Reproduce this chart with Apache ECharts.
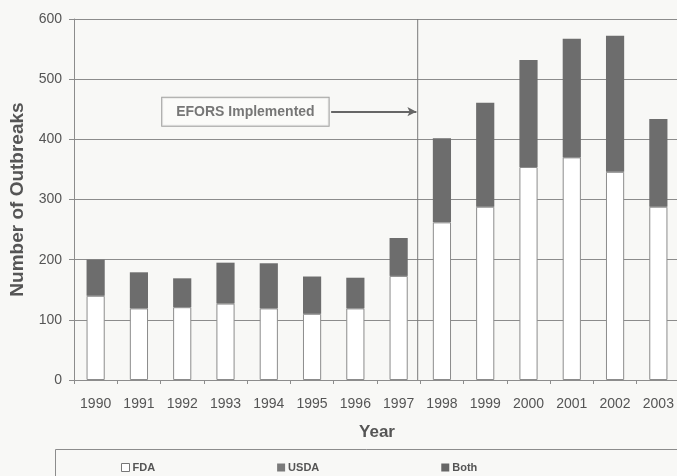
<!DOCTYPE html>
<html>
<head>
<meta charset="utf-8">
<script src="https://cdn.jsdelivr.net/npm/echarts@6/dist/echarts.min.js"></script>
<style>
  html, body { margin: 0; padding: 0; background: #f8f8f6; }
  #chart { width: 677px; height: 476px; }
</style>
</head>
<body>
<div id="chart"></div>
<script>
// Foodborne outbreaks by regulating agency, 1990-2003
const years = ['1990','1991','1992','1993','1994','1995','1996','1997','1998','1999','2000','2001','2002','2003'];
const fda  = [140, 119, 121, 127, 119, 110, 119, 173, 262, 288, 354, 370, 346, 288];
const usda = [ 60,  60,  48,  68,  75,  62,  51,  63, 140, 173, 178, 197, 226, 146];
const both = [  0,   0,   0,   0,   0,   0,   0,   0,   0,   0,   0,   0,   0,   0];
const yTicks = [0, 100, 200, 300, 400, 500, 600];

// EFORS annotation: boundary between 1997 and 1998, arrow height
const eforsLabel = 'EFORS Implemented';
const eforsBoundary = 7.94;
const eforsLevel = 446;

const font = 'Arial, "Liberation Sans", sans-serif';
const textGray = '#555555';
const lineGray = '#8c8c8c';

const chart = echarts.init(document.getElementById('chart'));
chart.setOption({
  backgroundColor: '#f8f8f6',
  animation: false,
  textStyle: { fontFamily: font },
  grid: { left: 74, right: -3, top: 19, bottom: 96, outerBoundsMode: 'none' },
  legend: {
    left: 116, top: 457,
    icon: 'rect',
    itemWidth: 8, itemHeight: 8, itemGap: 122,
    textStyle: { fontFamily: font, fontSize: 11, fontWeight: 'bold', color: textGray, padding: [0, 0, 0, -2] },
    data: [
      { name: 'FDA', itemStyle: { color: '#ffffff', borderColor: '#777', borderWidth: 1 } },
      { name: 'USDA', itemStyle: { color: '#7a7a7a' } },
      { name: 'Both', itemStyle: { color: '#666666' } }
    ]
  },
  graphic: [{
    type: 'rect', left: 55, top: 449, z: -1,
    shape: { width: 640, height: 40 },
    style: { fill: '#f8f8f6', stroke: '#8c8c8c', lineWidth: 1 }
  }],
  xAxis: [{
    type: 'category', data: years,
    name: 'Year', nameLocation: 'middle', nameGap: 44,
    nameTextStyle: { fontFamily: font, fontSize: 17, fontWeight: 'bold', color: textGray },
    axisLine: { lineStyle: { color: lineGray } },
    axisTick: { show: true, length: 4, lineStyle: { color: lineGray } },
    axisLabel: { fontSize: 14, color: textGray, margin: 17 },
    splitLine: { show: false }
  }, {
    type: 'value', min: 0, max: years.length, show: false
  }],
  yAxis: {
    type: 'value', min: yTicks[0], max: yTicks[yTicks.length - 1], interval: 100,
    name: 'Number of Outbreaks', nameLocation: 'middle', nameGap: 47, nameRotate: 90,
    nameTextStyle: { fontFamily: font, fontSize: 19, fontWeight: 'bold', color: textGray },
    axisLine: { show: true, lineStyle: { color: lineGray } },
    axisTick: { show: true, length: 5, lineStyle: { color: lineGray } },
    axisLabel: { fontSize: 14, color: textGray, margin: 12 },
    splitLine: { lineStyle: { color: lineGray, width: 1 } }
  },
  series: [
    {
      name: 'FDA', type: 'bar', stack: 'total', data: fda, barWidth: '42%',
      itemStyle: { color: '#ffffff', borderColor: '#8c8c8c', borderWidth: 1 }
    },
    {
      name: 'USDA', type: 'bar', stack: 'total', data: usda, barWidth: '42%',
      itemStyle: { color: '#6d6d6d' }
    },
    {
      name: 'Both', type: 'bar', stack: 'total', data: both, barWidth: '42%',
      itemStyle: { color: '#5f5f5f' }
    },
    {
      // vertical divider marking EFORS start
      type: 'line', xAxisIndex: 1, silent: true, symbol: 'none', z: 4,
      data: [[eforsBoundary, yTicks[0]], [eforsBoundary, yTicks[yTicks.length - 1]]],
      lineStyle: { color: '#7a7a7a', width: 1 },
      markLine: {
        silent: true, symbol: ['none', 'arrow'], symbolSize: [7, 9],
        lineStyle: { color: '#666', width: 2, type: 'solid' },
        label: { show: false },
        data: [[{ coord: [5.94, eforsLevel] }, { coord: [eforsBoundary - 0.03, eforsLevel] }]]
      }
    },
    {
      // annotation box
      type: 'scatter', xAxisIndex: 1, silent: true, symbolSize: 0, z: 5,
      data: [[3.96, eforsLevel]],
      label: {
        show: true, position: 'inside', formatter: eforsLabel,
        fontFamily: font, fontSize: 14, fontWeight: 'bold', color: textGray,
        backgroundColor: '#fbfbfa', borderColor: '#8c8c8c', borderWidth: 1,
        padding: [7, 14, 7, 14]
      }
    }
  ]
});
</script>
</body>
</html>
